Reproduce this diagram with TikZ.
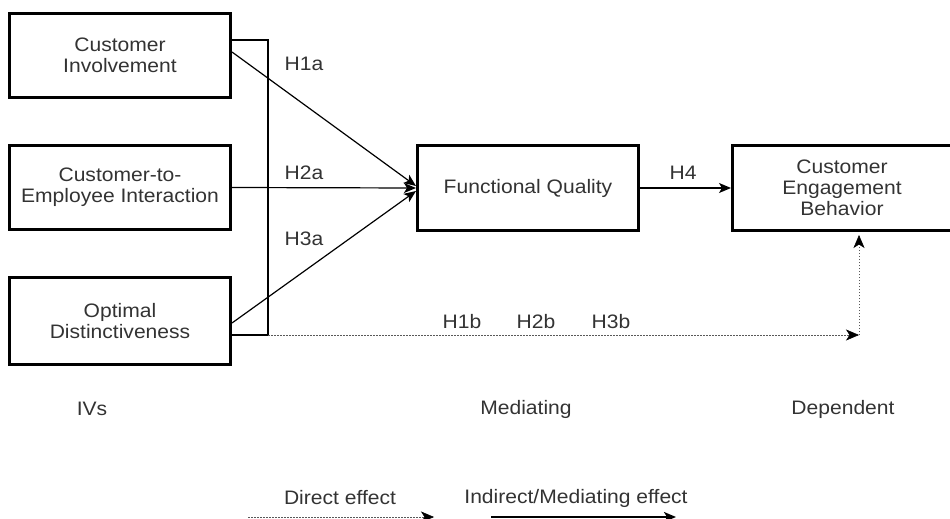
\documentclass[tikz,border=0pt]{standalone}
\usepackage{fontspec}
\setmainfont{Liberation Sans}[FakeStretch=1.08]
\usetikzlibrary{arrows.meta,calc}
\begin{document}
\begin{tikzpicture}[x=1pt,y=-1pt,
  every node/.style={font=\fontsize{19.5}{21}\selectfont, text=black!80},
  varbox/.style={draw=black, line width=3pt, align=center, inner sep=0pt, minimum width=221pt, minimum height=84pt},
  lbl/.style={inner sep=0pt},
  solidarrow/.style={draw=black, line width=1.2pt, -{Stealth[length=12pt,width=10pt,inset=3pt,black]}},
  dottedarrow/.style={draw=black!65, line width=1pt, dash pattern=on 1.5pt off 1.5pt, -{Stealth[length=13pt,width=11pt,inset=3.5pt,black,line width=0.5pt]}},
  bracketline/.style={draw=black, line width=1.5pt}
]
\useasboundingbox (0,0) rectangle (950,519);
\fill[white] (0,0) rectangle (950,519);

% boxes
\node[varbox] (B1) at (120,55.5) {Customer\\Involvement};
\node[varbox] (B2) at (120,187.5) {Customer-to-\\Employee Interaction};
\node[varbox, minimum height=87pt] (B3) at (120,321) {Optimal\\Distinctiveness};
\node[varbox, minimum height=85pt] (FQ) at (528,188) {Functional Quality};
\node[varbox, minimum height=85pt, minimum width=219pt] (CEB) at (842,188) {Customer\\Engagement\\Behavior};

% bracket
\coordinate (bt) at (268,40);
\coordinate (bb) at (268,335);
\draw[bracketline] (B1.east |- bt) -- (bt) -- (bb) -- (B3.east |- bb);

% arrows into Functional Quality
\draw[solidarrow] ([yshift=3.5pt]B1.east) -- ([yshift=2pt]FQ.west);
\draw[solidarrow] (B2.east) -- (FQ.west);
\draw[solidarrow] ([yshift=-2pt]B3.east) -- ([yshift=-3pt]FQ.west);
\draw[solidarrow] (FQ.east) -- (CEB.west);

% direct effect path
\coordinate (dend) at (859,335);
\draw[dottedarrow] (bb) -- (dend);
\draw[dottedarrow] (dend) -- ([yshift=-3pt]dend |- CEB.south);

% hypothesis labels
\node[lbl] (h1a) at (304,64) {H1a};
\node[lbl] (h2a) at (304,173) {H2a};
\node[lbl] (h3a) at (304,239) {H3a};
\node[lbl] (h4) at (683,173) {H4};
\node[lbl] (h1b) at (462,322) {H1b};
\node[lbl] (h2b) at (536,322) {H2b};
\node[lbl] (h3b) at (611,322) {H3b};

% column labels
\node[lbl] (ivs) at (92,409) {IVs};
\node[lbl] (med) at (526,409) {Mediating};
\node[lbl] (dep) at (843,409) {Dependent};

% legend
\node[lbl] (lg1) at (340,498) {Direct effect};
\node[lbl] (lg2) at (576,498) {Indirect/Mediating effect};
\coordinate (d1s) at (248,517);
\coordinate (d1e) at (434,517);
\coordinate (d2s) at (491,517);
\coordinate (d2e) at (676,517);
\draw[dottedarrow] (d1s) -- (d1e);
\draw[solidarrow, line width=2pt] (d2s) -- (d2e);
\end{tikzpicture}
\end{document}
